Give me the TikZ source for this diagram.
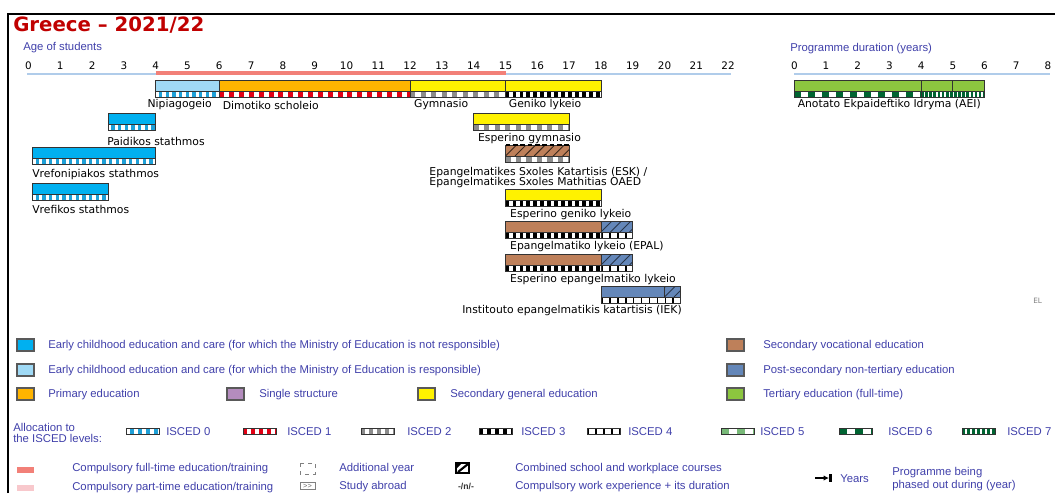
\documentclass[tikz,border=0pt]{standalone}
\usepackage{fontspec}
\setmainfont{Liberation Sans}
\newfontfamily\verdana{DejaVu Sans}
\usetikzlibrary{positioning,arrows.meta}

\definecolor{ececnot}{RGB}{0,176,240}
\definecolor{ecec}{RGB}{160,218,246}
\definecolor{primary}{RGB}{255,180,0}
\definecolor{single}{RGB}{180,140,190}
\definecolor{secgen}{RGB}{255,242,0}
\definecolor{secvoc}{RGB}{190,128,90}
\definecolor{postsec}{RGB}{100,135,185}
\definecolor{tertiary}{RGB}{140,198,63}
\definecolor{legtext}{RGB}{64,64,170}
\definecolor{titlered}{RGB}{192,0,0}
\definecolor{axisblue}{RGB}{176,204,234}
\definecolor{compfull}{RGB}{242,128,120}
\definecolor{comppart}{RGB}{248,200,204}
\definecolor{iscedzero}{RGB}{30,160,215}
\definecolor{iscedone}{RGB}{225,0,20}
\definecolor{iscedtwo}{RGB}{140,140,140}
\definecolor{iscedfive}{RGB}{120,185,120}
\definecolor{darkgreen}{RGB}{0,100,50}

% coloured part of a programme bar: from, to, top, colour
\newcommand{\progbar}[4]{%
  \fill[#4] (#1,#3) rectangle (#2,#3+11);
  \draw[outline] (#1,#3) rectangle (#2,#3+11);
}
% ISCED strip: from, to, top, background, block colour, period, block part
\newcommand{\iscedstrip}[7]{%
  \fill[#4] (#1,#3) rectangle (#2,#3+6);
  \begin{scope}
    \clip (#1,#3) rectangle (#2,#3+6);
    \pgfmathtruncatemacro\nblk{(#2-#1)/#6+1}
    \foreach \k in {0,...,\nblk}
      \fill[#5] ({#1+\k*#6},#3) rectangle ({#1+(\k+#7)*#6},#3+6);
  \end{scope}
  \draw[outline] (#1,#3) rectangle (#2,#3+6);
}
% diagonal hatching over a bar: from, to, top, line colour
\newcommand{\hatchbox}[4]{%
  \begin{scope}
    \clip (#1,#3) rectangle (#2,#3+11);
    \pgfmathtruncatemacro\nh{(#2-#1)/0.3+2}
    \foreach \k in {0,...,\nh}
      \draw[#4, line width=0.7pt] ({#1+(\k-1)*0.3},#3+11) -- ++(8.25pt,8.25pt);
  \end{scope}
  \draw[outline] (#1,#3) rectangle (#2,#3+11);
}

\begin{document}
\begin{tikzpicture}[x=0.75pt, y=-0.75pt,
    lbl/.style={font=\verdana\fontsize{8.1}{9.7}\selectfont, inner sep=0pt, yshift=-1.5pt},
    tick/.style={font=\verdana\fontsize{7.8}{9}\selectfont, inner sep=0pt},
    leg/.style={font=\fontsize{8.5}{10}\selectfont, text=legtext, inner sep=0pt, anchor=west},
    legbox/.style={draw=black!65, line width=0.9pt},
    outline/.style={draw=black!80, line width=0.6pt}]

    \useasboundingbox (0,0) rectangle (1055,493);

    % Frame and title
    \draw[line width=1.5pt] (8,493) -- (8,14) -- (1055,14);
    \node[font=\verdana\bfseries\fontsize{14.8}{16}\selectfont, text=titlered,
          anchor=west, inner sep=0pt] (title) at (13,25.5) {Greece – 2021/22};
    \node[leg] (agehead) at (23,48) {Age of students};
    \node[leg] (durhead) at (790,49) {Programme duration (years)};

    % Age axis: one unit per year
    \begin{scope}[shift={(28.5,0)}, x=23.85pt]
        \foreach \t in {0,...,22}
            \node[tick] (age\t) at (\t,65.5) {\t};
        \draw[axisblue, line width=1.5pt] (-0.05,74.3) -- (4,74.3);
        \draw[axisblue, line width=1.5pt] (15,74.3) -- (22.1,74.3);
        \draw[compfull, line width=3pt] (4,72.8) -- (15,72.8);

        % Main row: Nipiagogeio, Dimotiko, Gymnasio, Geniko lykeio
        \progbar{4}{6}{80}{ecec}
        \iscedstrip{4}{6}{91}{iscedzero}{white}{0.21}{0.5}
        \progbar{6}{12}{80}{primary}
        \iscedstrip{6}{12}{91}{white}{iscedone}{0.31}{0.5}
        \progbar{12}{15}{80}{secgen}
        \iscedstrip{12}{15}{91}{white}{iscedtwo}{0.33}{0.5}
        \progbar{15}{18}{80}{secgen}
        \iscedstrip{15}{18}{91}{white}{black}{0.22}{0.55}
        \node[lbl, anchor=east] (nipiagogeio) at (5.77,103) {Nipiagogeio};
        \node[lbl, anchor=west] (dimotiko) at (6.1,103) {Dimotiko scholeio};
        \node[lbl, anchor=west] (gymnasio) at (12.12,103) {Gymnasio};
        \node[lbl, anchor=west] (geniko) at (15.1,103) {Geniko lykeio};

        % Early childhood settings
        \progbar{2.5}{4}{113}{ececnot}
        \iscedstrip{2.5}{4}{124}{iscedzero}{white}{0.21}{0.5}
        \node[lbl, anchor=west] (paidikos) at (2.47,139) {Paidikos stathmos};
        \progbar{0.12}{4}{147}{ececnot}
        \iscedstrip{0.12}{4}{158}{iscedzero}{white}{0.21}{0.5}
        \node[lbl, anchor=west] (vrefonipiakos) at (0.11,173) {Vrefonipiakos stathmos};
        \progbar{0.12}{2.5}{183}{ececnot}
        \iscedstrip{0.12}{2.5}{194}{iscedzero}{white}{0.21}{0.5}
        \node[lbl, anchor=west] (vrefikos) at (0.11,207) {Vrefikos stathmos};

        % Evening lower secondary
        \progbar{14}{17}{113}{secgen}
        \iscedstrip{14}{17}{124}{white}{iscedtwo}{0.33}{0.5}
        \node[lbl, anchor=west] (espgymnasio) at (14.13,137) {Esperino gymnasio};

        % ESK / OAED: combined school and workplace courses
        \progbar{15}{17}{145}{secvoc}
        \hatchbox{15}{17}{145}{black!70!secvoc}
        \draw[line width=1.3pt, dash pattern=on 3.5pt off 2pt] (15,145) -- (17,145);
        \iscedstrip{15}{17}{156}{white}{iscedtwo}{0.33}{0.5}
        \node[lbl, anchor=west] (eska) at (12.6,171) {Epangelmatikes Sxoles Katartisis (ESK) /};
        \node[lbl, anchor=west] (eskb) at (12.6,181) {Epangelmatikes Sxoles Mathitias OAED};

        % Evening upper secondary
        \progbar{15}{18}{189}{secgen}
        \iscedstrip{15}{18}{200}{white}{black}{0.22}{0.55}
        \node[lbl, anchor=west] (espgeniko) at (15.14,213) {Esperino geniko lykeio};

        % EPAL and evening EPAL, with the extra post-secondary year
        \foreach \ytop/\nm/\txt in {221/epal/{Epangelmatiko lykeio (EPAL)},
                                    254/espepal/{Esperino epangelmatiko lykeio}} {
            \progbar{15}{18}{\ytop}{secvoc}
            \progbar{18}{19}{\ytop}{postsec}
            \hatchbox{18}{19}{\ytop}{black!60!postsec}
            \iscedstrip{15}{18}{\ytop+11}{white}{black}{0.22}{0.55}
            \iscedstrip{18}{19}{\ytop+11}{white}{black}{0.25}{0.22}
            \node[lbl, anchor=west] (\nm) at (15.14,\ytop+23.5) {\txt};
        }

        % IEK
        \progbar{18}{20}{286}{postsec}
        \progbar{20}{20.5}{286}{postsec}
        \hatchbox{20}{20.5}{286}{black!60!postsec}
        \iscedstrip{18}{20.5}{297}{white}{black}{0.25}{0.22}
        \node[lbl, anchor=east] (iek) at (20.55,309) {Institouto epangelmatikis katartisis (IEK)};
    \end{scope}

    % Programme duration axis and AEI
    \begin{scope}[shift={(794.3,0)}, x=23.775pt]
        \foreach \t in {0,...,8}
            \node[tick] (dur\t) at (\t,65.5) {\t};
        \draw[axisblue, line width=1.5pt] (0,73.5) -- (8.05,73.5);
        \progbar{0}{4}{80}{tertiary}
        \progbar{4}{5}{80}{tertiary}
        \progbar{5}{6}{80}{tertiary}
        \iscedstrip{0}{4}{91}{white}{darkgreen}{0.44}{0.5}
        \iscedstrip{4}{6}{91}{white}{darkgreen}{0.13}{0.65}
        \node[lbl, anchor=west] (aei) at (0.1,103) {Anotato Ekpaideftiko Idryma (AEI)};
    \end{scope}

    \node[font=\verdana\fontsize{5.5}{6}\selectfont, text=black!50, anchor=west,
          inner sep=0pt] (country) at (1033,301) {EL};

    % Colour legend
    \foreach \lx/\ly/\tx/\lc/\lt [count=\li] in {
        17/345/48/ececnot/{Early childhood education and care (for which the Ministry of Education is not responsible)},
        17/370/48/ecec/{Early childhood education and care (for which the Ministry of Education is responsible)},
        17/394/48/primary/{Primary education},
        227/394/259/single/{Single structure},
        418/394/450/secgen/{Secondary general education},
        727/345/763/secvoc/{Secondary vocational education},
        727/370/763/postsec/{Post-secondary non-tertiary education},
        727/394/763/tertiary/{Tertiary education (full-time)}} {
        \draw[legbox, fill=\lc] (\lx,\ly-6) rectangle ++(17,12);
        \node[leg] (leg\li) at (\tx,\ly+1) {\lt};
    }

    % ISCED levels
    \node[leg, align=left, font=\fontsize{8.5}{8.2}\selectfont] (alloc) at (13,432.5)
        {Allocation to\\the ISCED levels:};
    \foreach \ix/\ibg/\ibk/\ip/\ifr/\tx [count=\n from 0] in {
        126/iscedzero/white/8/0.5/166,
        243/white/iscedone/8/0.5/287,
        361/white/iscedtwo/8/0.5/407,
        479/white/black/8/0.5/521,
        587/white/black/8/0.22/628,
        721/white/iscedfive/16/0.5/760,
        839/white/darkgreen/16/0.5/888,
        962/white/darkgreen/5/0.65/1007} {
        \iscedstrip{\ix}{\ix+33}{428}{\ibg}{\ibk}{\ip}{\ifr}
        \node[leg] (isced\n) at (\tx,432) {ISCED \n};
    }

    % Other symbols
    \fill[compfull] (17,467) rectangle (34,473);
    \fill[comppart] (17,485) rectangle (34,491);
    \node[leg] (compfullt) at (72,469) {Compulsory full-time education/training};
    \node[leg] (comppartt) at (72,487.5) {Compulsory part-time education/training};
    \draw[black!50, dashed, line width=0.5pt] (300,463) rectangle (315,474);
    \node[leg] (addyear) at (339,469) {Additional year};
    \node[draw=black!50, line width=0.5pt, font=\fontsize{5.5}{6}\selectfont, text=black!60,
          inner sep=0.8pt, minimum width=11.25pt] (abroadbox) at (307.5,486) {{>}{>}};
    \node[leg] (abroad) at (339,487) {Study abroad};
    \draw[black, line width=1pt, fill=white] (456,463) rectangle (469,473);
    \fill[black] (456,463) -- (462,463) -- (456,469) -- cycle;
    \draw[black, line width=1.6pt] (458,472) -- (468,464);
    \node[font=\bfseries\fontsize{6.5}{7}\selectfont, text=black!80, inner sep=0pt]
        (workexp) at (466,486) {-/n/-};
    \node[leg] (combined) at (515,469) {Combined school and workplace courses};
    \node[leg] (compwork) at (515,487) {Compulsory work experience + its duration};
    \coordinate (arrstart) at (815,478);
    \coordinate (arrend) at (829,478);
    \draw[line width=1pt, -{Latex[length=4pt,width=4pt]}] (arrstart) -- (arrend);
    \draw[line width=1.6pt] (arrend) ++(1.5,-4) -- ++(0,8);
    \node[leg] (yearsl) at (840,479) {Years};
    \node[leg, align=left, font=\fontsize{8.5}{9.3}\selectfont] (phased) at (892,479)
        {Programme being\\phased out during (year)};

\end{tikzpicture}
\end{document}
